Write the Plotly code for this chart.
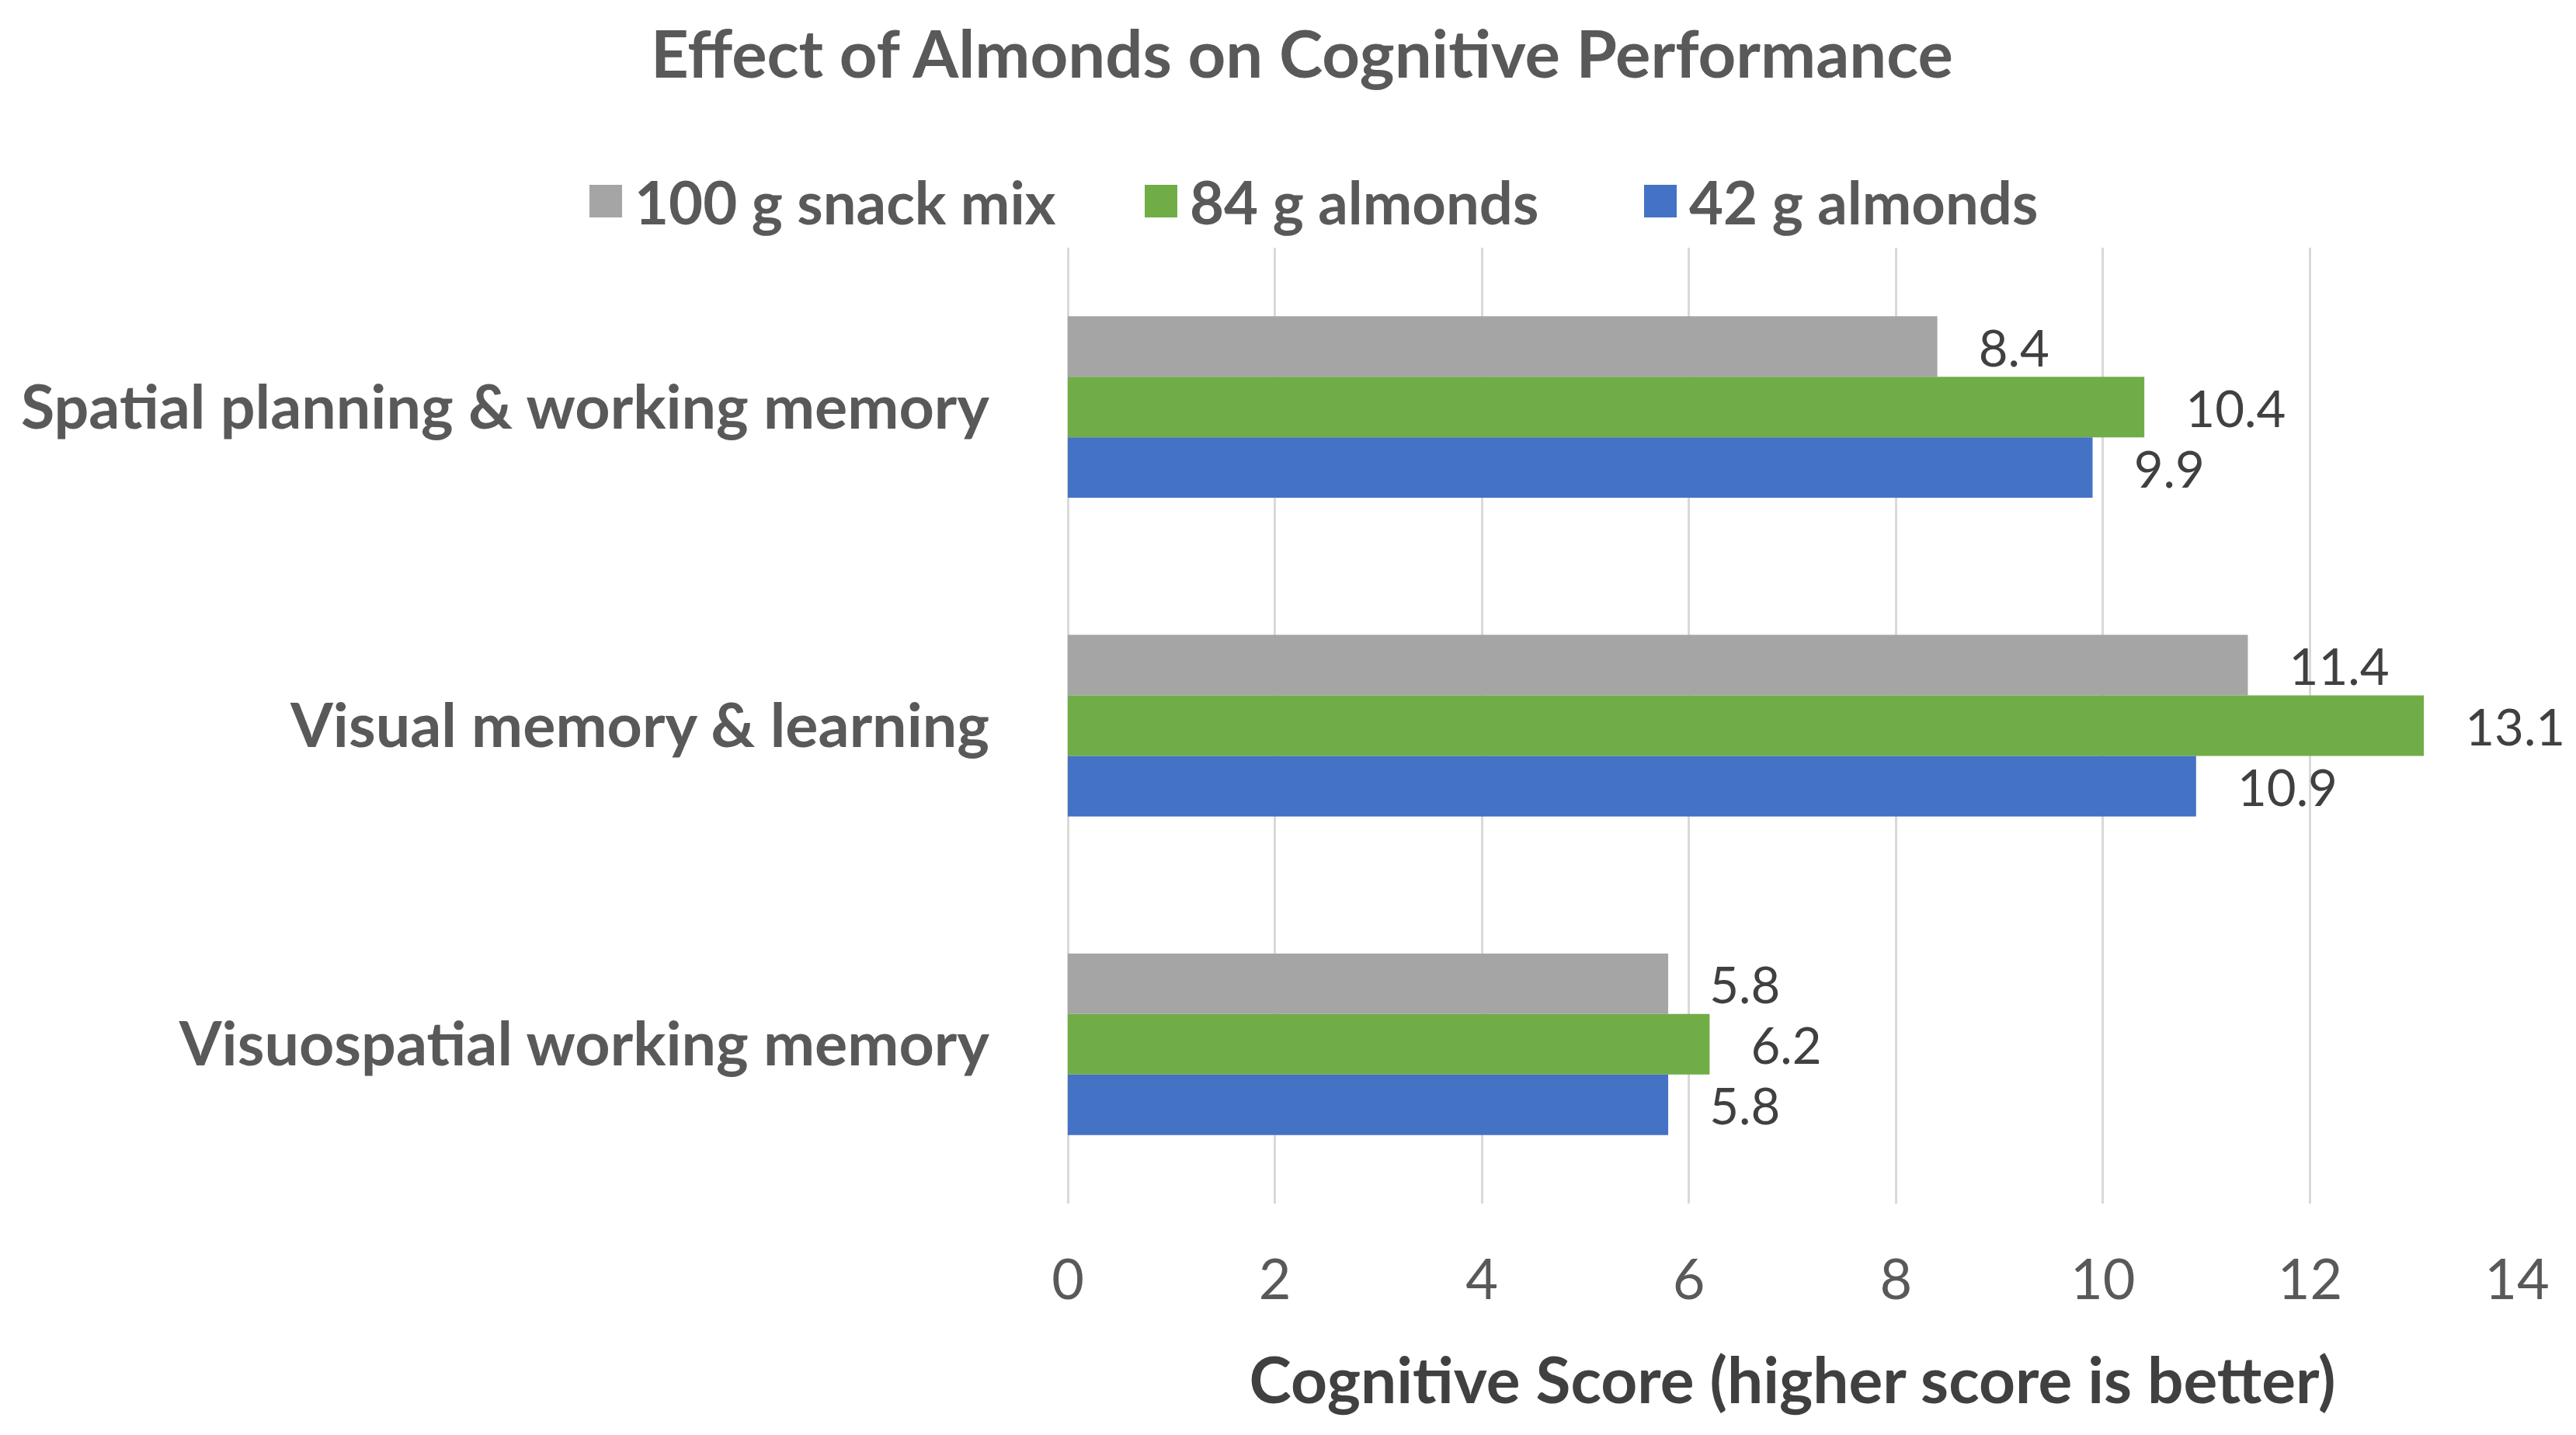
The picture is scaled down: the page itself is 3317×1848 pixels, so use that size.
import plotly.graph_objects as go

categories = ["Spatial planning & working memory", "Visual memory & learning", "Visuospatial working memory"]
series_names = ["100 g snack mix", "84 g almonds", "42 g almonds"]
snack_mix = [8.4, 11.4, 5.8]
almonds_84 = [10.4, 13.1, 6.2]
almonds_42 = [9.9, 10.9, 5.8]
x_ticks = [0, 2, 4, 6, 8, 10, 12, 14]

colors = ["#A5A5A5", "#70AD47", "#4472C4"]
FONT = "Lato"

W, H = 3317, 1848
ML, MR, MT, MB = 1367, 84, 311, 306
PW, PH = W - ML - MR, H - MT - MB


def px_x(px):
    return (px - ML) / PW


def px_y(py):
    return (H - MB - py) / PH


fig = go.Figure()
for name, vals, col in zip(series_names, [snack_mix, almonds_84, almonds_42], colors):
    fig.add_trace(go.Bar(
        y=categories, x=vals, name=name, orientation="h",
        marker=dict(color=col, line=dict(width=0)),
        text=[f"{v:.1f}" for v in vals],
        texttemplate="   %{text}",
        textposition="outside",
        textfont=dict(family=FONT, size=72, color="#404040"),
        cliponaxis=False, showlegend=False,
    ))

# legend drawn as squares + labels (positions in pixels)
legend_sq_left = [751, 1466, 2109]
legend_y = 251
sq = 42
shapes = []
annotations = []
for name, col, x0 in zip(series_names, colors, legend_sq_left):
    shapes.append(dict(type="rect", xref="paper", yref="paper",
                       x0=px_x(x0), x1=px_x(x0 + sq),
                       y0=px_y(legend_y + sq / 2), y1=px_y(legend_y - sq / 2),
                       fillcolor=col, line=dict(width=0)))
    annotations.append(dict(xref="paper", yref="paper", x=px_x(x0 + sq + 14), y=px_y(legend_y),
                            xanchor="left", yanchor="middle", showarrow=False,
                            text=f"<b>{name}</b>",
                            font=dict(family=FONT, size=76, color="#595959")))

fig.update_layout(
    width=W, height=H,
    paper_bgcolor="white", plot_bgcolor="white",
    barmode="group", bargap=0.43, bargroupgap=0,
    margin=dict(l=ML, r=MR, t=MT, b=MB),
    title=dict(text="<b>Effect of Almonds on Cognitive Performance</b>",
               font=dict(family=FONT, size=85, color="#595959"),
               x=0.503, xanchor="center", y=1 - 62 / H, yanchor="middle"),
    font=dict(family=FONT),
    showlegend=False,
    shapes=shapes,
    annotations=annotations,
)
fig.update_xaxes(
    range=[0, 14], tickvals=x_ticks, ticktext=[str(t) for t in x_ticks],
    showgrid=True, gridcolor="#D9D9D9", gridwidth=3,
    zeroline=True, zerolinecolor="#D9D9D9", zerolinewidth=3,
    showline=False, ticks="",
    tickfont=dict(family=FONT, size=72, color="#595959"),
    ticklabelstandoff=50,
    title=dict(text="<b>Cognitive Score (higher score is better)</b>",
               font=dict(family=FONT, size=82, color="#404040"), standoff=62),
)
fig.update_yaxes(
    autorange="reversed", showgrid=False, showline=False, ticks="",
    tickvals=categories, ticktext=[f"<b>{c}</b>" for c in categories],
    tickfont=dict(family=FONT, size=79, color="#595959"),
    ticklabelstandoff=100,
)

fig.write_html("out.html")
